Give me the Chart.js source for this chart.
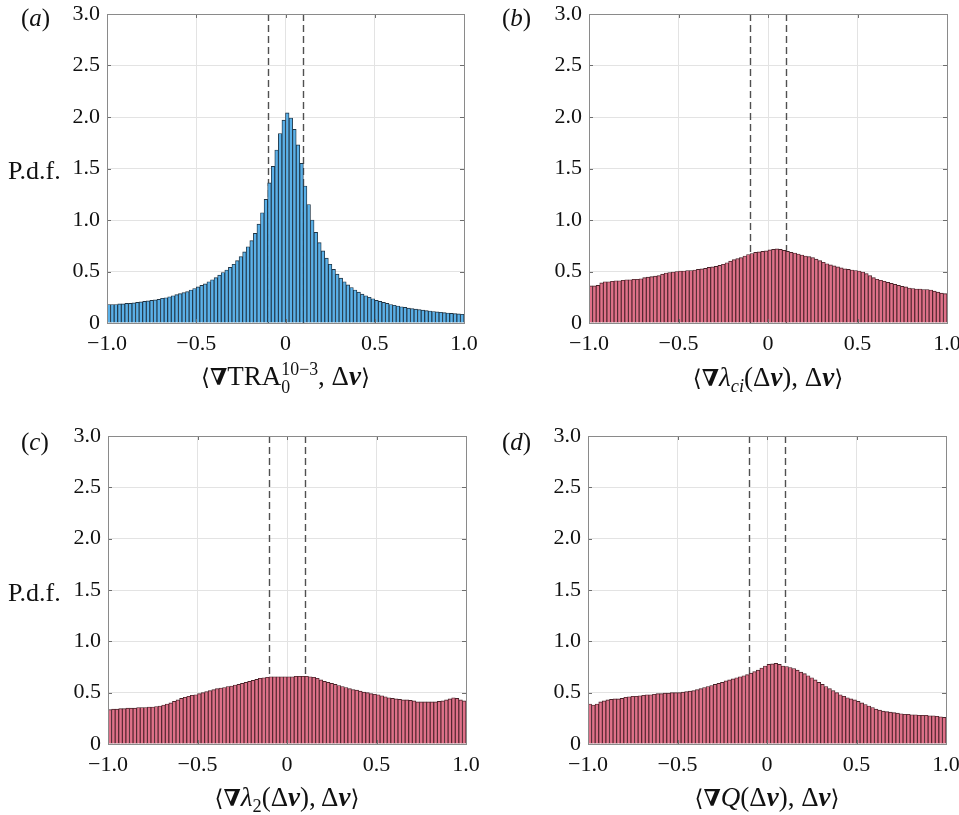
<!DOCTYPE html>
<html>
<head>
<meta charset="utf-8">
<script src="https://cdn.jsdelivr.net/npm/chart.js@4.4.0/dist/chart.umd.min.js"></script>
<style>
body { margin:0; background:#fff; width:959px; height:815px; position:relative; overflow:hidden;
       font-family:'Liberation Serif','Times New Roman',serif; color:#111; }
canvas { position:absolute; }
.lbl { position:absolute; white-space:nowrap; }
.pl { font-size:25px; line-height:28px; }
.pdf { font-size:26px; line-height:30px; }
.xt { text-align:center; font-size:27px; line-height:32px; }
.nb { font-family:'DejaVu Serif',serif; font-weight:bold; font-size:0.85em; }
.ang { font-family:'DejaVu Serif',serif; font-size:0.85em; }
.stack { display:inline-block; vertical-align:-0.45em; line-height:1; font-size:0.66em; text-align:left; }
.stack span { display:block; }
sub { font-size:0.68em; vertical-align:-0.32em; line-height:0; }
</style>
</head>
<body>
<canvas id="ca" width="500" height="410" style="left:0;top:-10px"></canvas>
<canvas id="cb" width="500" height="410" style="left:480px;top:-10px"></canvas>
<canvas id="cc" width="500" height="415" style="left:0;top:400px"></canvas>
<canvas id="cd" width="500" height="415" style="left:480px;top:400px"></canvas>

<div class="lbl pl" style="left:21px;top:4px">(<i>a</i>)</div>
<div class="lbl pl" style="left:502px;top:4px">(<i>b</i>)</div>
<div class="lbl pl" style="left:21px;top:428px">(<i>c</i>)</div>
<div class="lbl pl" style="left:502px;top:428px">(<i>d</i>)</div>

<div class="lbl pdf" style="left:8px;top:156px">P.d.f.</div>
<div class="lbl pdf" style="left:8px;top:578px">P.d.f.</div>

<div class="lbl xt" style="left:107px;width:357px;top:360px"><span class="ang">⟨</span><span class="nb">∇</span>TRA<span class="stack"><span>10−3</span><span>0</span></span>, Δ<b><i>v</i></b><span class="ang">⟩</span></div>
<div class="lbl xt" style="left:589px;width:358px;top:361px"><span class="ang">⟨</span><span class="nb">∇</span><i>λ</i><sub><i>ci</i></sub>(Δ<b><i>v</i></b>), Δ<b><i>v</i></b><span class="ang">⟩</span></div>
<div class="lbl xt" style="left:108px;width:358px;top:781px"><span class="ang">⟨</span><span class="nb">∇</span><i>λ</i><sub>2</sub>(Δ<b><i>v</i></b>), Δ<b><i>v</i></b><span class="ang">⟩</span></div>
<div class="lbl xt" style="left:588px;width:358px;top:781px"><span class="ang">⟨</span><span class="nb">∇</span><i>Q</i>(Δ<b><i>v</i></b>), Δ<b><i>v</i></b><span class="ang">⟩</span></div>

<script>
// bin centres of the 100 histogram bins on [-1, 1]
const binCenters = Array.from({ length: 100 }, (_, i) => -0.99 + 0.02 * i);

const xTickValues = [-1, -0.5, 0, 0.5, 1];
const xTickLabels = ['−1.0', '−0.5', '0', '0.5', '1.0'];
const yTickValues = [0, 0.5, 1, 1.5, 2, 2.5, 3];
const yTickLabels = ['0', '0.5', '1.0', '1.5', '2.0', '2.5', '3.0'];
const dashedAt = [-0.1, 0.1];

// (a) grad TRA
const pdfTRA = [
  0.18, 0.18, 0.18, 0.185, 0.185, 0.19, 0.19, 0.195, 0.20, 0.205,
  0.21, 0.215, 0.22, 0.225, 0.23, 0.24, 0.245, 0.255, 0.265, 0.275,
  0.285, 0.295, 0.305, 0.32, 0.335, 0.35, 0.365, 0.38, 0.40, 0.42,
  0.44, 0.465, 0.49, 0.515, 0.54, 0.57, 0.605, 0.645, 0.69, 0.74,
  0.80, 0.87, 0.96, 1.07, 1.20, 1.36, 1.52, 1.68, 1.84, 1.97,
  2.04, 1.99, 1.88, 1.73, 1.55, 1.33, 1.15, 1.00, 0.88, 0.78,
  0.70, 0.63, 0.57, 0.52, 0.475, 0.435, 0.40, 0.37, 0.345, 0.32,
  0.30, 0.28, 0.265, 0.25, 0.235, 0.22, 0.21, 0.20, 0.19, 0.18,
  0.172, 0.165, 0.158, 0.151, 0.145, 0.14, 0.135, 0.13, 0.125, 0.12,
  0.116, 0.112, 0.108, 0.104, 0.10, 0.097, 0.094, 0.091, 0.088, 0.085
];

// (b) grad lambda_ci
const pdfLambdaCi = [
  0.36, 0.36, 0.365, 0.39, 0.40, 0.40, 0.405, 0.41, 0.41, 0.415,
  0.42, 0.42, 0.425, 0.425, 0.43, 0.44, 0.445, 0.45, 0.455, 0.46,
  0.475, 0.485, 0.49, 0.495, 0.50, 0.505, 0.505, 0.51, 0.51, 0.515,
  0.52, 0.525, 0.53, 0.54, 0.545, 0.55, 0.56, 0.57, 0.585, 0.60,
  0.615, 0.625, 0.635, 0.65, 0.665, 0.675, 0.685, 0.69, 0.695, 0.70,
  0.71, 0.715, 0.72, 0.715, 0.705, 0.695, 0.685, 0.68, 0.67, 0.66,
  0.65, 0.645, 0.635, 0.62, 0.605, 0.59, 0.575, 0.565, 0.555, 0.545,
  0.535, 0.525, 0.52, 0.515, 0.51, 0.505, 0.495, 0.48, 0.46, 0.44,
  0.425, 0.415, 0.405, 0.395, 0.385, 0.375, 0.365, 0.355, 0.35, 0.34,
  0.335, 0.33, 0.33, 0.325, 0.325, 0.32, 0.31, 0.30, 0.29, 0.285
];

// (c) grad lambda_2
const pdfLambda2 = [
  0.335, 0.34, 0.34, 0.345, 0.345, 0.35, 0.35, 0.35, 0.355, 0.355,
  0.355, 0.36, 0.36, 0.365, 0.37, 0.38, 0.39, 0.40, 0.415, 0.43,
  0.445, 0.455, 0.465, 0.475, 0.48, 0.49, 0.50, 0.51, 0.52, 0.53,
  0.54, 0.545, 0.55, 0.56, 0.565, 0.575, 0.58, 0.59, 0.60, 0.61,
  0.62, 0.63, 0.64, 0.645, 0.65, 0.655, 0.655, 0.655, 0.655, 0.655,
  0.655, 0.655, 0.66, 0.66, 0.66, 0.66, 0.655, 0.65, 0.64, 0.625,
  0.61, 0.60, 0.59, 0.58, 0.57, 0.56, 0.55, 0.54, 0.53, 0.525,
  0.515, 0.505, 0.50, 0.49, 0.485, 0.48, 0.47, 0.46, 0.45, 0.445,
  0.44, 0.435, 0.43, 0.43, 0.425, 0.42, 0.41, 0.41, 0.41, 0.41,
  0.41, 0.41, 0.415, 0.42, 0.43, 0.44, 0.45, 0.445, 0.43, 0.42
];

// (d) grad Q
const pdfQ = [
  0.39, 0.38, 0.39, 0.41, 0.42, 0.43, 0.435, 0.44, 0.44, 0.445,
  0.455, 0.46, 0.465, 0.465, 0.47, 0.475, 0.48, 0.48, 0.485, 0.49,
  0.49, 0.495, 0.495, 0.50, 0.50, 0.50, 0.505, 0.51, 0.515, 0.52,
  0.53, 0.54, 0.55, 0.56, 0.57, 0.58, 0.59, 0.60, 0.615, 0.625,
  0.635, 0.645, 0.655, 0.665, 0.675, 0.69, 0.705, 0.72, 0.74, 0.76,
  0.775, 0.78, 0.785, 0.775, 0.76, 0.755, 0.745, 0.735, 0.72, 0.70,
  0.685, 0.665, 0.645, 0.625, 0.60, 0.58, 0.56, 0.54, 0.52, 0.50,
  0.48, 0.465, 0.45, 0.44, 0.43, 0.415, 0.40, 0.385, 0.37, 0.355,
  0.34, 0.33, 0.32, 0.315, 0.31, 0.305, 0.30, 0.295, 0.29, 0.29,
  0.285, 0.285, 0.28, 0.28, 0.28, 0.275, 0.275, 0.27, 0.265, 0.26
];

const tickFont = { family: "'Liberation Serif', 'Times New Roman', serif", size: 22 };

// dashed guides under the bars, plus the box and inward tick marks on top
const frame = {
  id: 'frame',
  beforeDatasetsDraw(chart) {
    const { ctx, chartArea: a, scales: { x } } = chart;
    ctx.save();
    ctx.strokeStyle = '#505050';
    ctx.lineWidth = 1.4;
    ctx.setLineDash([7, 4]);
    dashedAt.forEach(v => {
      const px = Math.round(x.getPixelForValue(v)) + 0.5;
      ctx.beginPath(); ctx.moveTo(px, a.top); ctx.lineTo(px, a.bottom); ctx.stroke();
    });
    ctx.restore();
  },
  afterDraw(chart) {
    const { ctx, chartArea: a, scales: { x, y } } = chart;
    ctx.save();
    ctx.strokeStyle = '#6e6e6e';
    ctx.lineWidth = 1;
    xTickValues.forEach(v => {
      const px = Math.round(x.getPixelForValue(v)) + 0.5;
      ctx.beginPath();
      ctx.moveTo(px, a.bottom); ctx.lineTo(px, a.bottom - 4);
      ctx.moveTo(px, a.top); ctx.lineTo(px, a.top + 4);
      ctx.stroke();
    });
    yTickValues.forEach(v => {
      const py = Math.round(y.getPixelForValue(v)) + 0.5;
      ctx.beginPath();
      ctx.moveTo(a.left, py); ctx.lineTo(a.left + 4, py);
      ctx.moveTo(a.right, py); ctx.lineTo(a.right - 4, py);
      ctx.stroke();
    });
    ctx.strokeStyle = '#8a8a8a';
    ctx.strokeRect(Math.round(a.left) + 0.5, Math.round(a.top) + 0.5,
                   Math.round(a.right - a.left), Math.round(a.bottom - a.top));
    ctx.restore();
  }
};

function makePanel(id, values, fill, edge, pad, yWidth, xHeight) {
  new Chart(document.getElementById(id), {
    type: 'bar',
    data: {
      datasets: [{
        data: binCenters.map((c, i) => ({ x: c, y: values[i] })),
        backgroundColor: fill,
        borderColor: edge,
        borderWidth: 0.9,
        barPercentage: 1,
        categoryPercentage: 1
      }]
    },
    options: {
      responsive: false,
      animation: false,
      layout: { padding: { left: 0, top: pad.top, right: pad.right, bottom: 0 } },
      plugins: { legend: { display: false }, tooltip: { enabled: false } },
      scales: {
        x: {
          type: 'linear', min: -1, max: 1, offset: false,
          grid: { color: '#e3e3e3', drawTicks: false, offset: false },
          border: { display: false },
          ticks: {
            stepSize: 0.5, padding: 8, color: '#111', font: tickFont, maxRotation: 0,
            callback: v => xTickLabels[xTickValues.indexOf(Math.round(v * 10) / 10)]
          },
          afterFit: s => { s.height = xHeight; }
        },
        y: {
          min: 0, max: 3,
          grid: { color: '#e3e3e3', drawTicks: false },
          border: { display: false },
          ticks: {
            stepSize: 0.5, padding: 7, color: '#111', font: tickFont,
            callback: v => yTickLabels[yTickValues.indexOf(Math.round(v * 10) / 10)]
          },
          afterFit: s => { s.width = yWidth; }
        }
      }
    },
    plugins: [frame]
  });
}

const blueFill = '#5ab0e8', blueEdge = '#1f3444';
const redFill = '#df7189', redEdge = '#4a2229';

makePanel('ca', pdfTRA, blueFill, blueEdge, { top: 24, right: 36 }, 107, 77);
makePanel('cb', pdfLambdaCi, redFill, redEdge, { top: 24, right: 33 }, 109, 77);
makePanel('cc', pdfLambda2, redFill, redEdge, { top: 36, right: 34 }, 108, 71);
makePanel('cd', pdfQ, redFill, redEdge, { top: 36, right: 34 }, 108, 71);
</script>
</body>
</html>
